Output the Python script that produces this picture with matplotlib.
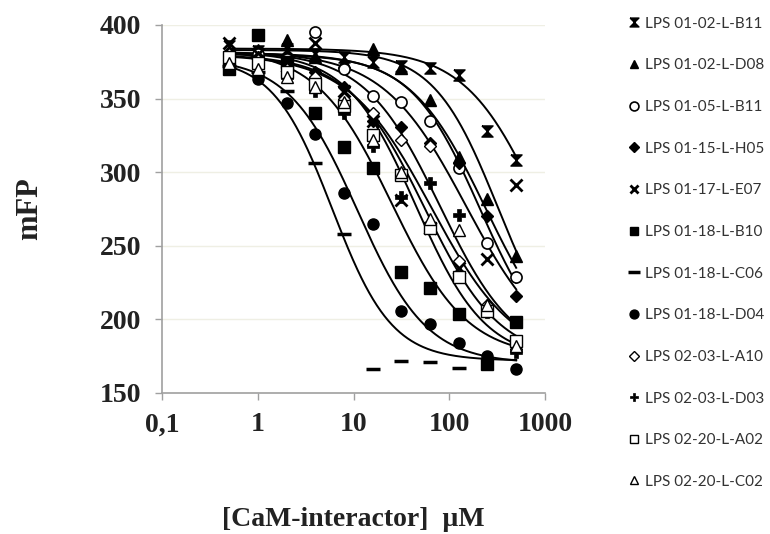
import numpy as np
import matplotlib
matplotlib.use("Agg")
import matplotlib.pyplot as plt

# ---------------- data ----------------
conc = [0.5, 1, 2, 4, 8, 16, 31.25, 62.5, 125, 250, 500]

labels = ["LPS 01-02-L-B11", "LPS 01-02-L-D08", "LPS 01-05-L-B11", "LPS 01-15-L-H05",
          "LPS 01-17-L-E07", "LPS 01-18-L-B10", "LPS 01-18-L-C06", "LPS 01-18-L-D04",
          "LPS 02-03-L-A10", "LPS 02-03-L-D03", "LPS 02-20-L-A02", "LPS 02-20-L-C02"]

b11_0102 = [386, 382, 384, 380, 378, 375, 372, 371, 366, 328, 308]
d08_0102 = [380, 383, 390, 378, 375, 384, 371, 349, 310, 282, 243]
b11_0105 = [378, 380, 377, 395, 370, 352, 348, 335, 303, 252, 229]
h05_0115 = [375, 378, 372, 368, 358, 335, 331, 320, 306, 270, 216]
e07_0117 = [388, 380, 372, 388, 355, 335, 281, 262, 235, 241, 291]
b10_0118 = [370, 393, 375, 340, 317, 303, 232, 221, 204, 170, 198]
c06_0118 = [372, 368, 355, 306, 258, 166, 172, 171, 167, np.nan, np.nan]
d04_0118 = [370, 363, 347, 326, 286, 265, 206, 197, 184, 175, 166]
a10_0203 = [380, 376, 370, 365, 350, 340, 322, 318, 240, 210, 180]
d03_0203 = [376, 372, 365, 355, 340, 318, 283, 293, 271, 205, 178]
a02_0220 = [378, 374, 368, 360, 345, 325, 298, 262, 229, 206, 185]
c02_0220 = [374, 370, 365, 358, 348, 322, 300, 268, 261, 210, 182]

series = [b11_0102, d08_0102, b11_0105, h05_0115, e07_0117, b10_0118,
          c06_0118, d04_0118, a10_0203, d03_0203, a02_0220, c02_0220]

# fitted 4-parameter logistic curves: top, bottom, IC50, Hill slope
fit_top    = [384, 383, 381, 380, 382, 384, 378, 378, 382, 380, 382, 380]
fit_bottom = [170, 170, 170, 170, 172, 174, 172, 170, 172, 172, 172, 172]
fit_ic50   = [900, 320, 240, 210, 150, 25, 6, 11, 80, 55, 45, 65]
fit_hill   = [1.1, 1.3, 1.1, 1.2, 1.0, 1.1, 1.4, 1.2, 1.1, 1.1, 1.2, 1.0]

xticks = [0.1, 1, 10, 100, 1000]
xticklabels = ["0,1", "1", "10", "100", "1000"]
yticks = [150, 200, 250, 300, 350, 400]

# ---------------- styles ----------------
hourglass = [(-1, 1), (1, 1), (-1, -1), (1, -1), (-1, 1)]
styles = [
    dict(marker=hourglass, mfc="black", mec="black", ms=8),
    dict(marker="^", mfc="black", mec="black", ms=8),
    dict(marker="o", mfc="white", mec="black", ms=8, mew=1.2),
    dict(marker="D", mfc="black", mec="black", ms=6),
    dict(marker="x", mfc="black", mec="black", ms=8, mew=2),
    dict(marker="s", mfc="black", mec="black", ms=8),
    dict(marker="_", mfc="black", mec="black", ms=10, mew=2.5),
    dict(marker="o", mfc="black", mec="black", ms=8),
    dict(marker="D", mfc="white", mec="black", ms=6, mew=1.0),
    dict(marker="P", mfc="black", mec="black", ms=8, mew=0.5),
    dict(marker="s", mfc="white", mec="black", ms=8, mew=1.0),
    dict(marker="^", mfc="white", mec="black", ms=8, mew=1.0),
]

W, H = 770, 534
fig = plt.figure(figsize=(W / 100, H / 100), dpi=100)
ax = fig.add_axes([162 / W, 1 - 393 / H, 383 / W, 368 / H])

serif = ["Liberation Serif", "DejaVu Serif"]

xs = np.logspace(np.log10(0.5), np.log10(500), 300)
for i, vals in enumerate(series):
    top, bot, ic, h = fit_top[i], fit_bottom[i], fit_ic50[i], fit_hill[i]
    ys = bot + (top - bot) / (1 + (xs / ic) ** h)
    ax.plot(xs, ys, color="black", lw=1.4, zorder=2)

handles = []
for i, vals in enumerate(series):
    ln, = ax.plot(conc, vals, linestyle="none", zorder=3, label=labels[i], **styles[i])
    handles.append(ln)

ax.set_xscale("log")
ax.set_xlim(0.1, 1000)
ax.set_ylim(150, 400)
ax.set_xticks(xticks)
ax.set_xticklabels(xticklabels)
ax.xaxis.set_minor_locator(matplotlib.ticker.NullLocator())
ax.set_yticks(yticks)

for s in ["top", "right"]:
    ax.spines[s].set_visible(False)
for s in ["left", "bottom"]:
    ax.spines[s].set_color("#a0a0a0")
    ax.spines[s].set_linewidth(1.2)
ax.tick_params(axis="both", direction="out", color="#a0a0a0", length=5, width=1)
ax.tick_params(axis="y", pad=10)
ax.tick_params(axis="x", pad=9)
for lab in ax.get_xticklabels() + ax.get_yticklabels():
    lab.set_fontfamily(serif)
    lab.set_fontweight("bold")
    lab.set_fontsize(20)
    lab.set_color("#222222")

ax.yaxis.grid(True, color="#efefe4", lw=1)
ax.set_axisbelow(True)

ax.set_ylabel("mFP", fontfamily=serif, fontweight="bold", fontsize=22, labelpad=40, color="#222222")
ax.set_xlabel("[CaM-interactor]  µM", fontfamily=serif, fontweight="bold", fontsize=20,
              labelpad=50, color="#222222")

leg = fig.legend(handles=handles, loc="upper left", bbox_to_anchor=(619 / W, 1 - 9 / H),
                 frameon=False, handlelength=0.9, handletextpad=0.3, labelspacing=1.81,
                 prop={"family": "Lato", "size": 11}, markerscale=0.8, borderpad=0)
for t in leg.get_texts():
    t.set_color("#333333")

fig.savefig("out.png", dpi=100)
